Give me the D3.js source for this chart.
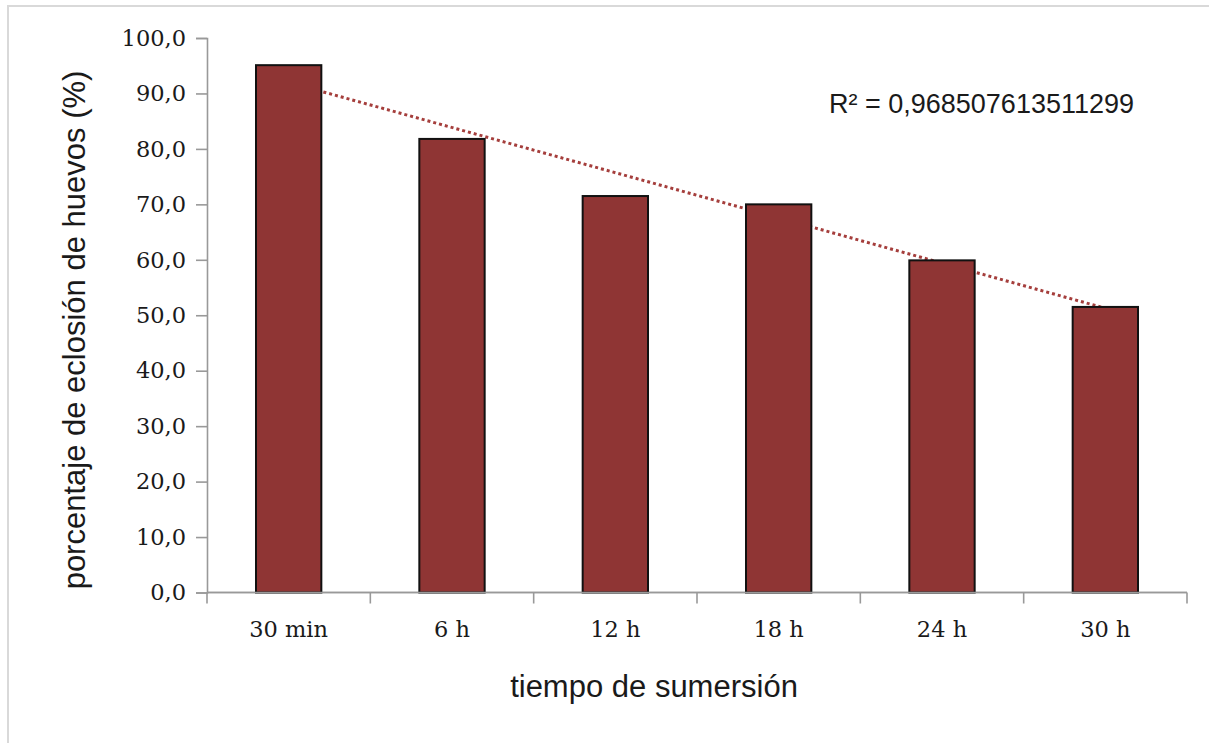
<!DOCTYPE html>
<html>
<head>
<meta charset="utf-8">
<script src="https://cdn.jsdelivr.net/npm/d3@7/dist/d3.min.js"></script>
<style>
  html, body { margin: 0; padding: 0; background: #fff; }
  svg { display: block; }
</style>
</head>
<body>
<svg id="chart" width="1209" height="743"></svg>
<script>
// Hatching rate by immersion time
const categories = ["30 min", "6 h", "12 h", "18 h", "24 h", "30 h"];
const hatchValues = [95.1, 81.8, 71.5, 70.0, 59.9, 51.5];
const yTicks = [0, 10, 20, 30, 40, 50, 60, 70, 80, 90, 100];
const r2Label = "R\u00B2 = 0,968507613511299";

const svg = d3.select("#chart");
const W = 1209, H = 743;
const plot = { left: 207, right: 1187, top: 38, bottom: 592.5 };

// outer frame
svg.append("rect")
  .attr("x", 8).attr("y", 6)
  .attr("width", W + 10).attr("height", H + 10)
  .attr("fill", "#fff").attr("stroke", "#d9d9d9").attr("stroke-width", 2);

const x = d3.scaleBand()
  .domain(categories)
  .range([plot.left, plot.right])
  .paddingInner(0.6)
  .paddingOuter(0.3);

const y = d3.scaleLinear()
  .domain([0, 100])
  .range([plot.bottom, plot.top]);

const fmt = v => d3.format(".1f")(v).replace(".", ",");

// y axis
const yAxis = svg.append("g")
  .attr("transform", `translate(${plot.left},0)`)
  .call(d3.axisLeft(y).tickValues(yTicks).tickFormat(fmt).tickSize(11).tickPadding(10));
yAxis.select(".domain").attr("stroke", "#999").attr("stroke-width", 1.6);
yAxis.selectAll(".tick line").attr("stroke", "#999").attr("stroke-width", 1.6);
yAxis.selectAll(".tick text")
  .attr("font-family", "DejaVu Serif")
  .attr("font-size", 22.5)
  .attr("fill", "#1a1a1a");

// x axis: ticks at category boundaries
const step = x.step();
const boundaries = d3.range(categories.length + 1).map(i => plot.left + i * step);
const xAxisG = svg.append("g");
xAxisG.append("line")
  .attr("x1", plot.left).attr("x2", plot.right)
  .attr("y1", plot.bottom).attr("y2", plot.bottom)
  .attr("stroke", "#999").attr("stroke-width", 1.6);
xAxisG.selectAll("line.b").data(boundaries).join("line")
  .attr("class", "b")
  .attr("x1", d => d).attr("x2", d => d)
  .attr("y1", plot.bottom).attr("y2", plot.bottom + 11)
  .attr("stroke", "#999").attr("stroke-width", 1.6);
xAxisG.selectAll("text").data(categories).join("text")
  .attr("x", d => x(d) + x.bandwidth() / 2)
  .attr("y", 637)
  .attr("text-anchor", "middle")
  .attr("font-family", "DejaVu Serif")
  .attr("font-size", 22.5)
  .attr("fill", "#1a1a1a")
  .text(d => d);

// linear trend line (least squares over category index)
const n = hatchValues.length;
const xs = d3.range(1, n + 1);
const mx = d3.mean(xs), my = d3.mean(hatchValues);
const slope = d3.sum(xs, (xi, i) => (xi - mx) * (hatchValues[i] - my)) /
              d3.sum(xs, xi => (xi - mx) * (xi - mx));
const intercept = my - slope * mx;
const center = c => x(c) + x.bandwidth() / 2;
svg.append("line")
  .attr("x1", center(categories[0]))
  .attr("y1", y(intercept + slope * 1))
  .attr("x2", center(categories[n - 1]))
  .attr("y2", y(intercept + slope * n))
  .attr("stroke", "#a53e3c")
  .attr("stroke-width", 3)
  .attr("stroke-dasharray", "3,3");

// bars
svg.selectAll("rect.bar").data(hatchValues).join("rect")
  .attr("class", "bar")
  .attr("x", (d, i) => x(categories[i]))
  .attr("y", d => y(d))
  .attr("width", x.bandwidth())
  .attr("height", d => y(0) - y(d))
  .attr("fill", "#8f3534")
  .attr("stroke", "#111")
  .attr("stroke-width", 2);

// redraw baseline over bars
svg.append("line")
  .attr("x1", plot.left).attr("x2", plot.right)
  .attr("y1", plot.bottom).attr("y2", plot.bottom)
  .attr("stroke", "#999").attr("stroke-width", 1.6);

// R² annotation
svg.append("text")
  .attr("x", 829).attr("y", 113)
  .attr("font-family", "Liberation Sans, Arial, sans-serif")
  .attr("font-size", 27)
  .attr("fill", "#1a1a1a")
  .text(r2Label);

// axis titles
svg.append("text")
  .attr("x", 654)
  .attr("y", 697)
  .attr("text-anchor", "middle")
  .attr("font-family", "Liberation Sans, Arial, sans-serif")
  .attr("font-size", 31)
  .attr("fill", "#1a1a1a")
  .text("tiempo de sumersión");

svg.append("text")
  .attr("transform", `translate(85,330) rotate(-90)`)
  .attr("text-anchor", "middle")
  .attr("font-family", "Liberation Sans, Arial, sans-serif")
  .attr("font-size", 31)
  .attr("fill", "#1a1a1a")
  .text("porcentaje de eclosión de huevos (%)");
</script>
</body>
</html>
